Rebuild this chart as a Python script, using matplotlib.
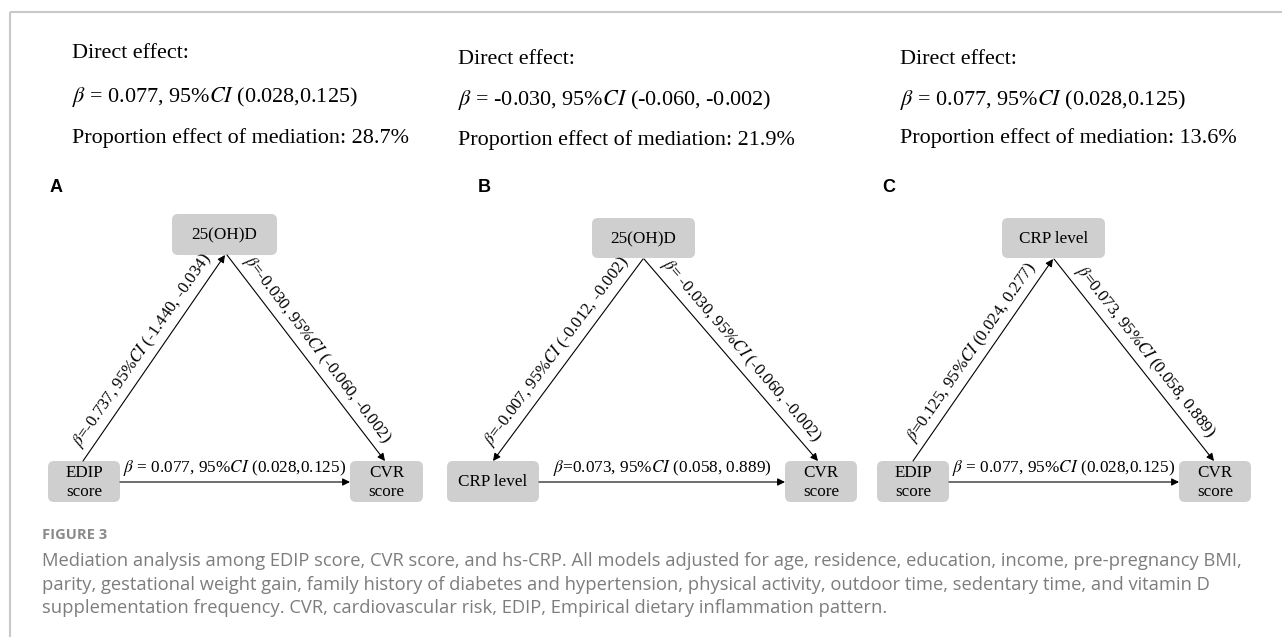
import math

import matplotlib
matplotlib.use("Agg")
import matplotlib.pyplot as plt
from matplotlib.patches import FancyBboxPatch

plt.rcParams["font.family"] = ["Liberation Serif", "DejaVu Serif"]
plt.rcParams["mathtext.fontset"] = "stix"

# ---- data -------------------------------------------------------------
panel_letters = ["A", "B", "C"]
direct_effect = [
    r"$\beta$ = 0.077, 95%$\mathit{CI}$ (0.028,0.125)",
    r"$\beta$ = -0.030, 95%$\mathit{CI}$ (-0.060, -0.002)",
    r"$\beta$ = 0.077, 95%$\mathit{CI}$ (0.028,0.125)",
]
mediation_pct = ["28.7%", "21.9%", "13.6%"]
exposure = ["EDIP\nscore", "CRP level", "EDIP\nscore"]
mediator = ["25(OH)D", "25(OH)D", "CRP level"]
outcome = ["CVR\nscore", "CVR\nscore", "CVR\nscore"]
left_path = [
    r"$\beta$=-0.737, 95%$\mathit{CI}$ (-1.440, -0.034)",
    r"$\beta$=-0.007, 95%$\mathit{CI}$ (-0.012, -0.002)",
    r"$\beta$=0.125, 95%$\mathit{CI}$ (0.024, 0.277)",
]
left_points_up = [True, False, True]
right_path = [
    r"$\beta$=-0.030, 95%$\mathit{CI}$ (-0.060, -0.002)",
    r"$\beta$= -0.030, 95%$\mathit{CI}$ (-0.060, -0.002)",
    r"$\beta$=0.073, 95%$\mathit{CI}$ (0.058, 0.889)",
]
bottom_path = [
    r"$\beta$ = 0.077, 95%$\mathit{CI}$ (0.028,0.125)",
    r"$\beta$=0.073, 95%$\mathit{CI}$ (0.058, 0.889)",
    r"$\beta$ = 0.077, 95%$\mathit{CI}$ (0.028,0.125)",
]
caption_title = "FIGURE 3"
caption_lines = [
    "Mediation analysis among EDIP score, CVR score, and hs-CRP. All models adjusted for age, residence, education, income, pre-pregnancy BMI,",
    "parity, gestational weight gain, family history of diabetes and hypertension, physical activity, outdoor time, sedentary time, and vitamin D",
    "supplementation frequency. CVR, cardiovascular risk, EDIP, Empirical dietary inflammation pattern.",
]

# ---- layout (pixel space, y down) -----------------------------------
layout = [
    dict(text_x=72, text_y=[53, 97, 138], letter=(50, 188),
         top=(172, 214, 277, 255), left=(48, 461, 120, 502), right=(350, 461, 423, 502),
         l_line=((83, 461), (225, 255)), r_line=((227, 255), (385, 461))),
    dict(text_x=458, text_y=[60, 100, 140], letter=(478, 188),
         top=(592, 218, 695, 258), left=(447, 461, 539, 502), right=(785, 461, 857, 502),
         l_line=((493, 461), (643, 259)), r_line=((644, 259), (818, 461))),
    dict(text_x=900, text_y=[60, 100, 138], letter=(882, 188),
         top=(1002, 218, 1105, 258), left=(877, 461, 949, 502), right=(1179, 461, 1251, 502),
         l_line=((913, 461), (1053, 259)), r_line=((1054, 259), (1214, 461))),
]
arrow_y = 482
BOX_COLOR = "#cfcfcf"
HEAD_FS = 15.9
BOX_FS = 12.3
PATH_FS = 12.2

fig = plt.figure(figsize=(12.82, 6.37), dpi=100)
ax = fig.add_axes([0, 0, 1, 1])
ax.set_xlim(0, 1282)
ax.set_ylim(637, 0)
ax.axis("off")

# page frame
ax.plot([9.5, 1282], [12, 12], color="#c8c8c8", lw=1.5, solid_capstyle="butt")
ax.plot([9.5, 9.5], [12, 637], color="#c8c8c8", lw=1.5, solid_capstyle="butt")


def box(rect, label):
    x0, y0, x1, y1 = rect
    r = 6
    ax.add_patch(FancyBboxPatch((x0 + r, y0 + r), x1 - x0 - 2 * r, y1 - y0 - 2 * r,
                                boxstyle=f"round,pad={r}", fc=BOX_COLOR, ec="none"))
    ax.text((x0 + x1) / 2, (y0 + y1) / 2 + 1, label, ha="center", va="center",
            fontsize=BOX_FS, linespacing=1.3)


def arrow(p_from, p_to):
    ax.annotate("", xy=p_to, xytext=p_from,
                arrowprops=dict(arrowstyle="-|>", lw=0.8, color="black",
                                mutation_scale=11, shrinkA=0, shrinkB=0))


def path_label(p1, p2, text, offset=4):
    # sort so the text reads left to right
    (x1, y1), (x2, y2) = sorted([p1, p2])
    dx, dy = x2 - x1, -(y2 - y1)
    ang = math.degrees(math.atan2(dy, dx))
    nx, ny = -math.sin(math.radians(ang)), math.cos(math.radians(ang))
    mx, my = (x1 + x2) / 2 + nx * offset, (y1 + y2) / 2 - ny * offset
    ax.text(mx, my, text, rotation=ang, rotation_mode="anchor",
            ha="center", va="bottom", fontsize=PATH_FS)


for i, lay in enumerate(layout):
    tx = lay["text_x"]
    ax.text(tx, lay["text_y"][0], "Direct effect:", fontsize=HEAD_FS, va="center")
    ax.text(tx, lay["text_y"][1], direct_effect[i], fontsize=HEAD_FS, va="center")
    ax.text(tx, lay["text_y"][2], "Proportion effect of mediation: " + mediation_pct[i],
            fontsize=HEAD_FS, va="center")
    ax.text(*lay["letter"], panel_letters[i], fontsize=13, fontweight="bold",
            family=["Liberation Sans", "DejaVu Sans"], va="center")

    box(lay["top"], mediator[i])
    box(lay["left"], exposure[i])
    box(lay["right"], outcome[i])

    lb, lt = lay["l_line"]
    if left_points_up[i]:
        arrow(lb, lt)
    else:
        arrow(lt, lb)
    arrow(*lay["r_line"])
    arrow((lay["left"][2], arrow_y), (lay["right"][0], arrow_y))

    path_label(lb, lt, left_path[i])
    path_label(*lay["r_line"], right_path[i])
    ax.text((lay["left"][2] + lay["right"][0]) / 2, arrow_y - 4, bottom_path[i],
            ha="center", va="bottom", fontsize=12.4)

# caption
ax.text(42, 535, caption_title, fontsize=10.6, fontweight="bold", color="#8a8a8a",
        family=["Open Sans", "DejaVu Sans"], va="center")
for k, line in enumerate(caption_lines):
    ax.text(42, 561 + k * 23.5, line, fontsize=13.2, color="#7d7d7d",
            family=["Open Sans", "DejaVu Sans"], va="center")

fig.savefig("out.png", dpi=100)
